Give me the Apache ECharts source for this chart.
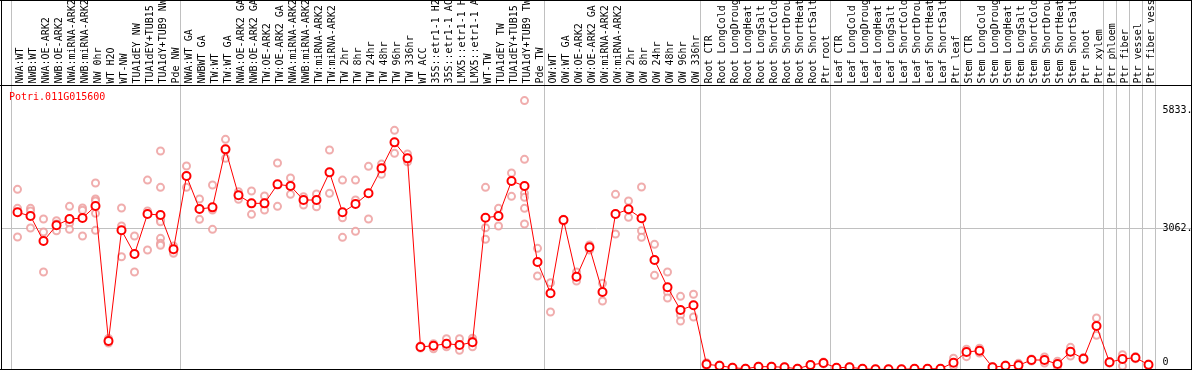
<!DOCTYPE html>
<html><head><meta charset="utf-8">
<script src="https://cdn.jsdelivr.net/npm/echarts@6/dist/echarts.min.js"></script>
<style>html,body{margin:0;padding:0;background:#fff;overflow:hidden}#c{width:1194px;height:370px}</style>
</head><body><div id="c"></div>
<script>
const geneName = 'Potri.011G015600';
const categories = [
 'NWA:WT','NWB:WT','NWA:OE-ARK2','NWB:OE-ARK2','NWA:miRNA-ARK2','NWB:miRNA-ARK2','NW 0hr','WT H2O','WT-NW','TUA1dEY NW','TUA1dEY+TUB15 NW','TUA1dY+TUB9 NW','Pde NW',
 'NWA:WT GA','NWBWT GA','TW:WT','TW:WT GA','NWA:OE-ARK2 GA','NWB:OE-ARK2 GA','TW:OE-ARK2','TW:OE-ARK2 GA','NWA:miRNA-ARK2 GA','NWB:miRNA-ARK2 GA','TW:miRNA-ARK2','TW:miRNA-ARK2 GA',
 'TW 2hr','TW 8hr','TW 24hr','TW 48hr','TW 96hr','TW 336hr','WT ACC','35S::etr1-1 H2O','35S::etr1-1 ACC','LMX5::etr1-1 H2O','LMX5::etr1-1 ACC','WT-TW','TUA1dEY TW','TUA1dEY+TUB15 TW','TUA1dY+TUB9 TW','Pde TW',
 'OW:WT','OW:WT GA','OW:OE-ARK2','OW:OE-ARK2 GA','OW:miRNA-ARK2','OW:miRNA-ARK2 GA','OW 2hr','OW 8hr','OW 24hr','OW 48hr','OW 96hr','OW 336hr',
 'Root CTR','Root LongCold','Root LongDrought','Root LongHeat','Root LongSalt','Root ShortCold','Root ShortDrought','Root ShortHeat','Root ShortSalt','Ptr root',
 'Leaf CTR','Leaf LongCold','Leaf LongDrought','Leaf LongHeat','Leaf LongSalt','Leaf ShortCold','Leaf ShortDrought','Leaf ShortHeat','Leaf ShortSalt','Ptr leaf',
 'Stem CTR','Stem LongCold','Stem LongDrought','Stem LongHeat','Stem LongSalt','Stem ShortCold','Stem ShortDrought','Stem ShortHeat','Stem ShortSalt','Ptr shoot',
 'Ptr xylem','Ptr phloem','Ptr fiber','Ptr vessel','Ptr fiber vessel'
];
const meanValues = [
 3409,3329,2787,3127,3264,3285,3546,618,3019,2505,3372,3351,2607,
 4196,3481,3517,4775,3778,3604,3604,4016,3979,3676,3676,4276,3409,3589,3821,4363,4927,4580,488,516,560,531,590,3292,3329,4088,3979,2331,
 1652,3242,2012,2650,1681,3372,3474,3279,2375,1783,1290,1392,
 113,82,39,17,61,61,48,17,98,141,
 39,48,17,4,4,4,17,17,17,147,
 380,408,48,82,91,206,206,119,386,234,943,
 156,228,256,104
];
const replicateValues = [
 [3908,3496,2873],[3496,3437,3069],[3264,2982,2114],[3227,3155,3010],[3539,3171,3040],[3502,3452,2895],
 [4044,3697,3654,3387,3019],[672,602,574],[3502,3112,2446],[2895,2505,2114],[4109,3437,2591],
 [4739,3951,3242,3205,2845,2737,2693],[2678,2555,2520],
 [4413,4196,3951],[3697,3481,3257],[4001,3459,3040],[4992,4775,4580],[3856,3778,3691],[3871,3604,3366],
 [3763,3604,3459],[4478,4016,3539],[4153,3979,3799],[3747,3676,3567],[3806,3676,3530],[4760,4276,3821],
 [4109,3292,2867],[4109,3676,2997],[4407,3821,3264],[4456,4363,4233],[5187,4927,4688],[4673,4580,4506],
 [510,488,466],[560,516,451],[668,560,494],[668,531,416],[677,625,494],[3951,3075,2824],[3496,3329,3112],
 [4261,4088,3756],[5833,4558,3821,3734,3496,3155],[2628,2331,2028],
 [1882,1652,1247],[3257,3242,3220],[2114,2012,1919],[2700,2650,2591],[1869,1681,1486],[3799,3372,2938],
 [3654,3474,3300],[3958,3279,3010,2867],[2715,2375,2043],[2114,1783,1681,1551],[1587,1182,1052],[1631,1392,1139],
 [147,113,80],[95,82,70],[50,39,28],[25,17,9],[70,61,52],[70,61,52],[55,48,40],[25,17,9],[110,98,86],[160,141,122],
 [45,39,33],[55,48,41],[22,17,12],[8,4,0],[8,4,0],[8,4,0],[22,17,12],[22,17,12],[22,17,12],[243,147,76],
 [438,380,278],[460,408,358],[60,48,36],[95,82,69],[134,91,48],[230,206,182],[271,206,141],[178,119,60],[481,386,293],[260,234,208],[1117,943,742],
 [175,156,137],[321,228,76],[280,256,232],[120,104,88]
];
const yTickLabels = [0, 3062, 5833];
const gridLineValues = [3062];
const separatorIndices = [0, 13, 41, 53, 63, 73, 84, 85, 86, 87];
const yMax = 6160;

const FONT = '"DejaVu Sans Mono", monospace';
const sepSet = new Set(separatorIndices);
const sepFn = function (i) { return sepSet.has(i); };
const repData = [];
replicateValues.forEach(function (arr, i) { arr.forEach(function (v) { repData.push([i, v]); }); });
const txt = {fontFamily: FONT, fontSize: 10, color: '#000'};

const chart = echarts.init(document.getElementById('c'), null, {renderer: 'canvas'});
const option = {
  backgroundColor: '#fff',
  animation: false,
  title: {text: geneName, left: 9, top: 92, padding: 0,
    textStyle: {color: '#ff0000', fontSize: 10, fontFamily: FONT, fontWeight: 'normal'}},
  grid: [
    {left: 11, right: 39, top: 85.5, bottom: 0.5, containLabel: false, outerBoundsMode: 'none'},
    {left: 11, right: 39, top: 0, height: 85.5, containLabel: false, outerBoundsMode: 'none'},
    {left: 1.5, right: 2.5, top: 85.5, bottom: 0.5, containLabel: false, outerBoundsMode: 'none'}
  ],
  xAxis: [
    {gridIndex: 0, type: 'category', position: 'top', data: categories, boundaryGap: true,
      axisLine: {show: false}, axisTick: {show: false},
      axisLabel: Object.assign({interval: 0, rotate: 90, margin: 2, hideOverlap: false,
        formatter: function (v) { return '{c|' + v + '}'; },
        rich: {c: Object.assign({padding: [5, 0, 0, 0]}, txt)}}, txt),
      splitLine: {show: true, interval: sepFn, lineStyle: {color: '#c0c0c0', width: 1}}},
    {gridIndex: 1, type: 'category', data: categories, boundaryGap: true,
      axisLine: {show: false}, axisTick: {show: false}, axisLabel: {show: false},
      splitLine: {show: true, interval: sepFn, lineStyle: {color: '#c0c0c0', width: 1}}},
    {gridIndex: 2, type: 'value', min: 0, max: 1, show: false}
  ],
  yAxis: [
    {gridIndex: 0, type: 'value', min: 0, max: yMax, show: false},
    {gridIndex: 1, type: 'value', min: 0, max: 1, show: false},
    {gridIndex: 2, type: 'value', min: 0, max: yMax, position: 'right',
      axisLine: {show: false},
      axisTick: {show: false, customValues: gridLineValues},
      splitLine: {show: true, lineStyle: {color: '#c0c0c0', width: 1}},
      axisLabel: Object.assign({
        customValues: yTickLabels, inside: true, margin: 29, align: 'left',
        formatter: function (v) {
          if (v === 0) return '{b|0}';
          if (v === 5833) return '{a|' + v + '.}';
          return '{m|' + v + '.}';
        },
        rich: {
          a: Object.assign({padding: [19, 0, 0, 0]}, txt),
          b: Object.assign({padding: [0, 0, 14, 0]}, txt),
          m: Object.assign({}, txt)
        }
      }, txt)}
  ],
  series: [
    {type: 'scatter', xAxisIndex: 0, yAxisIndex: 0, data: repData, symbol: 'emptyCircle', symbolSize: 7,
      itemStyle: {color: '#ec9898', borderColor: '#ec9898', borderWidth: 1.2}, z: 2, silent: true},
    {type: 'line', xAxisIndex: 0, yAxisIndex: 0, data: meanValues, symbol: 'emptyCircle', symbolSize: 8,
      lineStyle: {color: '#ff0000', width: 1}, itemStyle: {color: '#ff0000', borderColor: '#ff0000', borderWidth: 1.6}, z: 3, silent: true}
  ],
  graphic: [
    {type: 'line', shape: {x1: 0, y1: 0.5, x2: 1192, y2: 0.5}, style: {stroke: '#000', lineWidth: 1}, z: 100},
    {type: 'line', shape: {x1: 0, y1: 85.5, x2: 1192, y2: 85.5}, style: {stroke: '#000', lineWidth: 1}, z: 100},
    {type: 'line', shape: {x1: 0, y1: 369.5, x2: 1192, y2: 369.5}, style: {stroke: '#000', lineWidth: 1}, z: 100},
    {type: 'line', shape: {x1: 1.5, y1: 0, x2: 1.5, y2: 370}, style: {stroke: '#000', lineWidth: 1}, z: 100},
    {type: 'line', shape: {x1: 1191.5, y1: 0, x2: 1191.5, y2: 370}, style: {stroke: '#000', lineWidth: 1}, z: 100}
  ]
};
chart.setOption(option);
</script></body></html>
